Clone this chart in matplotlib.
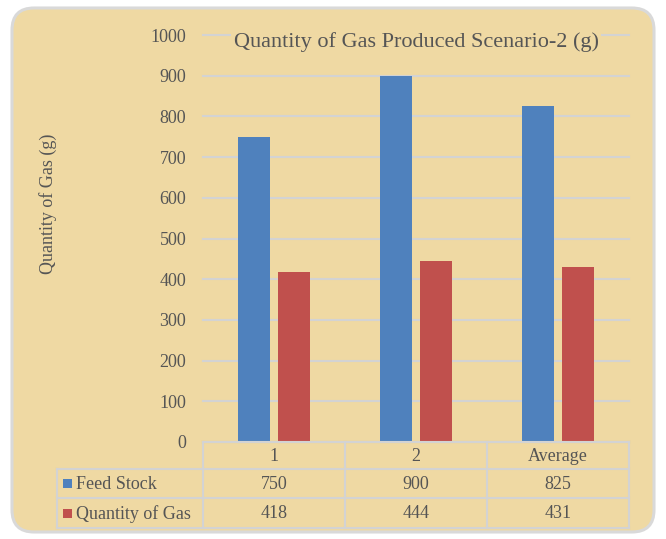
import matplotlib
matplotlib.use("Agg")
import matplotlib.pyplot as plt
from matplotlib.patches import FancyBboxPatch, Rectangle
from matplotlib.transforms import blended_transform_factory

# --- chart data ---
categories = ["1", "2", "Average"]
feed_stock = [750, 900, 825]
gas_quantity = [418, 444, 431]
series_names = ["Feed Stock", "Quantity of Gas"]
series_values = [feed_stock, gas_quantity]
y_ticks = [0, 100, 200, 300, 400, 500, 600, 700, 800, 900, 1000]

# --- styling ---
W, H = 666, 539
PAPER = "#EFD9A3"
GRID = "#D3D3D3"
TEXT = "#555555"
COLORS = ["#4F81BD", "#C0504D"]
FONT = "Liberation Serif"

# plot area in pixels (left, top, right, bottom)
AX_L, AX_T, AX_R, AX_B = 203, 35, 629, 442
TABLE_L = 57
ROW_LINES = [AX_B, 469, 498, 528]

fig = plt.figure(figsize=(W / 100, H / 100), dpi=100)
fig.patch.set_facecolor("white")

# background axes in pixel units
bg = fig.add_axes([0, 0, 1, 1])
bg.set_xlim(0, W)
bg.set_ylim(H, 0)
bg.axis("off")
bg.add_patch(FancyBboxPatch((12, 8), 642, 524,
                            boxstyle="round,pad=0,rounding_size=22",
                            facecolor=PAPER, edgecolor="#D9D9D9", linewidth=2.2))

ax = fig.add_axes([AX_L / W, 1 - AX_B / H, (AX_R - AX_L) / W, (AX_B - AX_T) / H])
ax.set_facecolor("none")

x = list(range(len(categories)))
bar_w = 0.225
offsets = [-0.144, 0.144]
for vals, off, col in zip(series_values, offsets, COLORS):
    ax.bar([i + off for i in x], vals, width=bar_w, color=col, zorder=3)

ax.set_xlim(-0.5, len(categories) - 0.5)
ax.set_ylim(0, 1000)
ax.set_yticks(y_ticks)
ax.set_yticklabels([str(t) for t in y_ticks], fontfamily=FONT, fontsize=13, color=TEXT)
ax.tick_params(axis="y", length=0, pad=12)
ax.set_xticks([])
ax.grid(axis="y", color=GRID, linewidth=1.5, zorder=0)
for gl in ax.get_ygridlines():
    gl.set_clip_on(False)
for s in ax.spines.values():
    s.set_visible(False)

# title sits over the top gridline
ax.text(0.5, AX_T + 7, "Quantity of Gas Produced Scenario-2 (g)",
        transform=blended_transform_factory(ax.transAxes, bg.transData),
        ha="center", va="center", fontfamily=FONT, fontsize=16, color=TEXT,
        zorder=5, bbox=dict(facecolor=PAPER, edgecolor="none", pad=2))

bg.text(48, 204, "Quantity of Gas (g)", rotation=90, ha="center", va="center",
        fontfamily=FONT, fontsize=13, color=TEXT)

# data table under the plot
tab = fig.add_axes([0, 0, 1, 1])
tab.set_xlim(0, W)
tab.set_ylim(H, 0)
tab.axis("off")
n = len(categories)
line_kw = dict(color=GRID, linewidth=1.5, zorder=4)

ax_to_px = lambda v: AX_L + (v + 0.5) / n * (AX_R - AX_L)
tab.plot([AX_L, AX_R], [ROW_LINES[0]] * 2, **line_kw)
for yl in ROW_LINES[1:]:
    tab.plot([TABLE_L, AX_R], [yl, yl], **line_kw)
for b in range(n + 1):
    xp = ax_to_px(b - 0.5)
    tab.plot([xp, xp], [ROW_LINES[0], ROW_LINES[-1]], **line_kw)
tab.plot([TABLE_L, TABLE_L], [ROW_LINES[1], ROW_LINES[-1]], **line_kw)

row_mid = [(ROW_LINES[i] + ROW_LINES[i + 1]) / 2 + 1 for i in range(3)]
cell_kw = dict(ha="center", va="center", fontfamily=FONT, fontsize=13, color=TEXT)
for i, cat in enumerate(categories):
    tab.text(ax_to_px(i), row_mid[0], cat, **cell_kw)
for r, (name, vals, col) in enumerate(zip(series_names, series_values, COLORS)):
    ym = row_mid[r + 1]
    tab.add_patch(Rectangle((63, ym - 5.5), 9, 9, facecolor=col, edgecolor="none"))
    tab.text(76, ym, name, ha="left", va="center", fontfamily=FONT,
             fontsize=13, color=TEXT)
    for i, v in enumerate(vals):
        tab.text(ax_to_px(i), ym, str(v), **cell_kw)

fig.savefig("out.png", dpi=100, facecolor="white")
